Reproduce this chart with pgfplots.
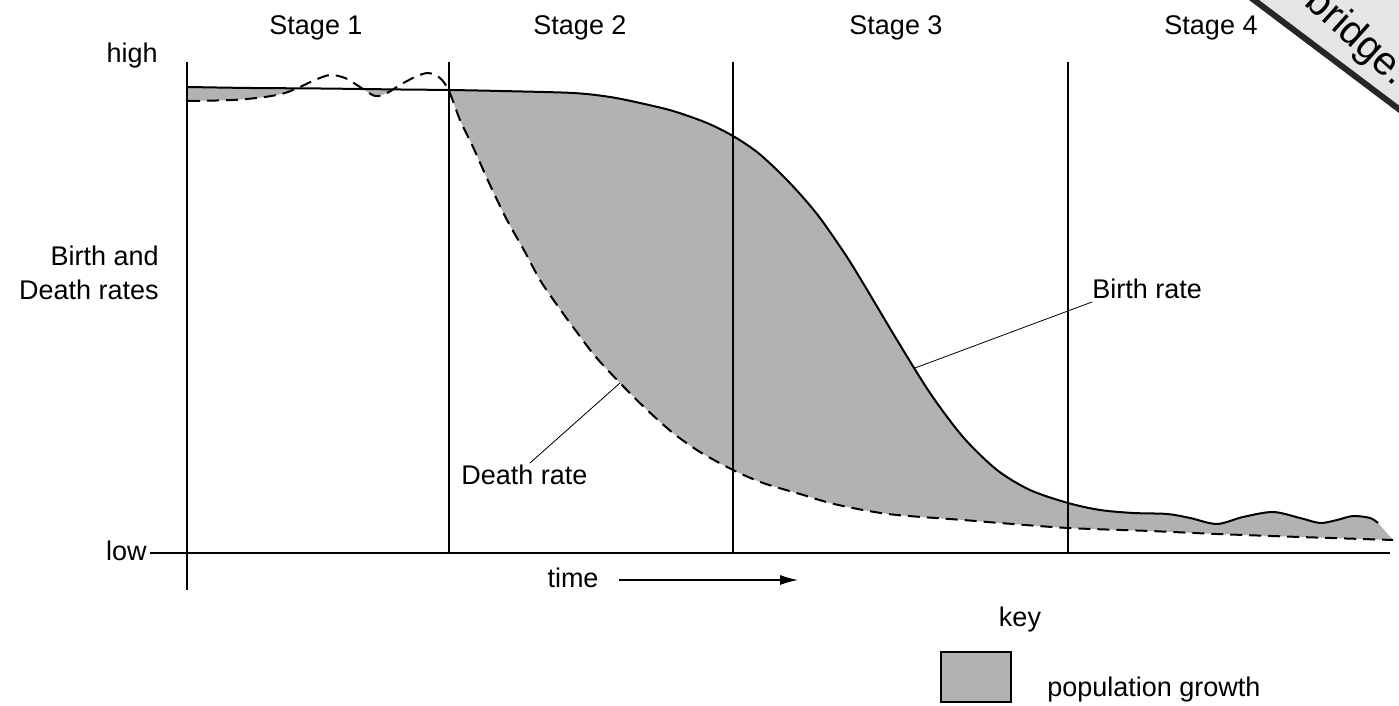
\documentclass[border=0pt]{standalone}
\usepackage{pgfplots}
\pgfplotsset{compat=1.18}
\usepackage{pgfplotstable}
\usepgfplotslibrary{fillbetween}
\usetikzlibrary{arrows.meta}
\usepackage{fontspec}
\setmainfont{Liberation Sans}

% birth and death rates (x = time, y = rate, screen units, y grows downwards)
\pgfplotstableread{
x y
187 87
250 88
320 88.5
400 89.5
449 90
500 91
573 93
610 97
640 103
673 111
707 123
733 136
757 152
780 173
800 194
820 218
845 254
863 283
897 340
930 393
963 437
997 470
1030 490
1068 503
1100 510
1133 513
1167 514
1190 518
1217 524
1243 517
1273 512
1300 518
1320 523
1337 520
1353 516
1370 518
1378 523
}\birthtab

\pgfplotstableread{
x y
188 101
233 100
265 97
285 93
300 87
315 80
330 75
345 78
360 87
375 96
387 93
400 85
415 77
428 73
440 78
449 91
460 120
473 147
490 185
507 220
525 252
540 280
557 305
573 327
595 356
620 383
645 408
673 433
700 452
733 470
763 483
800 494
830 503
863 510
897 515
963 520
1000 523
1068 528
1150 531
1217 534
1300 537
1393 540
}\deathtab

\definecolor{growth}{gray}{0.70}

\begin{document}
\begin{tikzpicture}[font=\fontsize{13.5}{16}\selectfont]
\begin{axis}[
    width=699.5pt, height=353pt, scale only axis,
    xmin=0, xmax=1399, ymin=0, ymax=706,
    y dir=reverse,
    hide axis,
    clip=true,
]
\path (axis cs:0,0) rectangle (axis cs:1399,706);

% invisible copies, only to shape the fill
\addplot[draw=none, smooth, name path=birth] table {\birthtab};
\addplot[draw=none, smooth, name path=death] table {\deathtab};
\addplot[growth] fill between[of=birth and death, split,
    every segment no 1/.style={fill opacity=0},
    every segment no 3/.style={fill opacity=0}];

% axes and stage dividers
\draw[line width=0.6pt] (axis cs:187,62) -- (axis cs:187,590);
\draw[line width=0.8pt] (axis cs:150,553) -- (axis cs:1390,553);
\draw[line width=1pt] (axis cs:449,62) -- (axis cs:449,553);
\draw[line width=1pt] (axis cs:733,62) -- (axis cs:733,553);
\draw[line width=1pt] (axis cs:1068,62) -- (axis cs:1068,553);

% the two rates
\addplot[black, line width=1pt, smooth] table {\birthtab};
\addplot[black, line width=1pt, smooth, dash pattern=on 6pt off 3.5pt] table {\deathtab};

% stage titles
\node[anchor=base] at (axis cs:316,35) {Stage 1};
\node[anchor=base] at (axis cs:580,35) {Stage 2};
\node[anchor=base] at (axis cs:896,35) {Stage 3};
\node[anchor=base] at (axis cs:1211,35) {Stage 4};

% y labels
\node[anchor=base east, inner sep=0pt] at (axis cs:158,63) {high};
\node[anchor=base east, inner sep=0pt] at (axis cs:147,561) {low};
\node[anchor=base east, inner sep=0pt] at (axis cs:159,266) {Birth and};
\node[anchor=base east, inner sep=0pt] at (axis cs:159,300) {Death rates};

% x label with arrow
\node[anchor=base, inner sep=0pt] at (axis cs:573,588) {time};
\draw[line width=0.6pt, -{Latex[length=9pt, width=5pt]}] (axis cs:619,580) -- (axis cs:798,580);

% curve labels
\draw[line width=0.4pt] (axis cs:915,368) -- (axis cs:1092,302);
\node[anchor=base west, inner sep=0pt] at (axis cs:1092,299) {Birth rate};
\draw[line width=0.4pt] (axis cs:620,383) -- (axis cs:530,463);
\node[anchor=base west, inner sep=0pt] at (axis cs:461,485) {Death rate};

% key
\node[anchor=base, inner sep=0pt] at (axis cs:1020,627) {key};
\draw[line width=0.8pt, fill=growth] (axis cs:941,652) rectangle (axis cs:1011,702);
\node[anchor=base west, inner sep=0pt] at (axis cs:1047,697) {population growth};

% corner stamp
\fill[black!10] (axis cs:1252,0) -- (axis cs:1399,0) -- (axis cs:1399,110) -- cycle;
\draw[line width=3pt, black!85] (axis cs:1250,-3) -- (axis cs:1404,113);
\node[rotate=-42, font=\fontsize{20}{22}\selectfont] at (axis cs:1356,38) {bridge.};
\end{axis}
\end{tikzpicture}
\end{document}
